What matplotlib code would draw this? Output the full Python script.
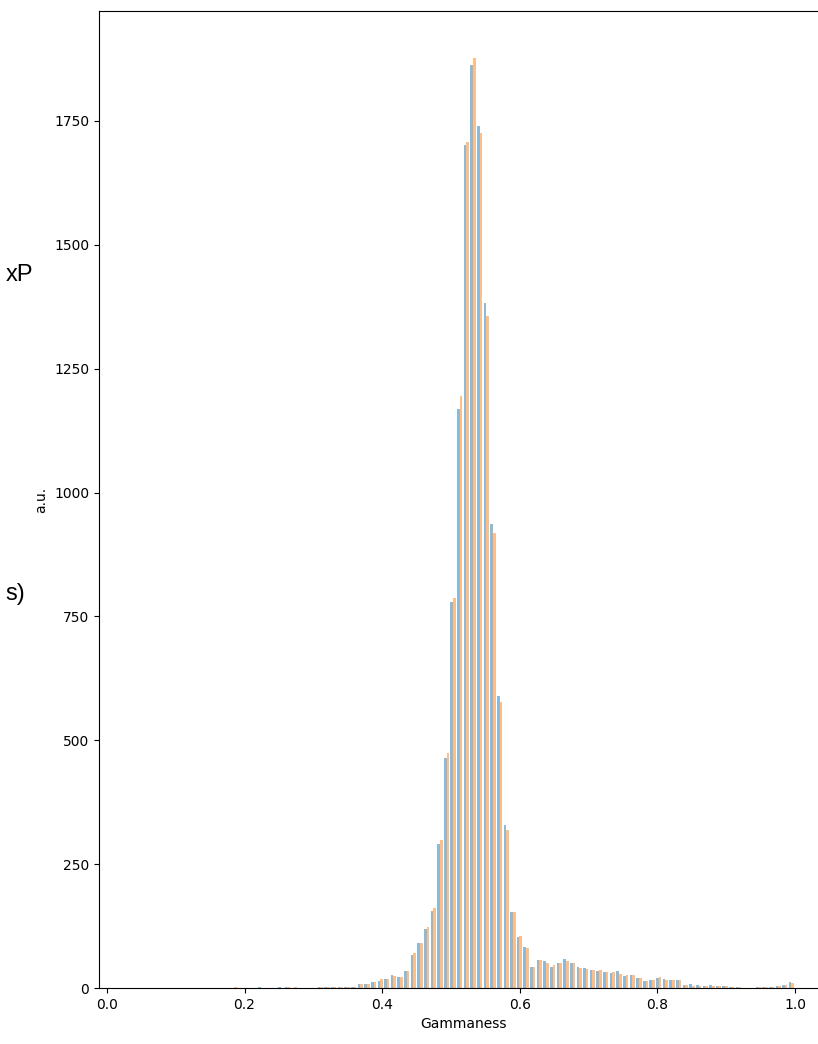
import numpy as np
import matplotlib
matplotlib.use("Agg")
import matplotlib.pyplot as plt

# histogram binning (100 bins between data min and max)
BIN_LO = 0.0356
BIN_HI = 0.9996
N_BINS = 100

# counts per bin, series 1 (blue) and series 2 (orange)
counts_a = [0]*15 + [1, 0, 0, 0, 2, 0, 0, 2, 2, 1,
                     0, 0, 0, 2, 2, 2, 3, 3, 3, 9,
                     9, 13, 15, 18, 26, 23, 34, 67, 90, 120,
                     155, 291, 465, 780, 1168, 1702, 1862, 1740, 1382, 937,
                     590, 329, 154, 102, 83, 43, 56, 54, 43, 51,
                     58, 51, 42, 40, 36, 34, 32, 30, 34, 24,
                     26, 20, 15, 16, 20, 18, 16, 16, 7, 9,
                     7, 4, 7, 4, 4, 3, 3, 0, 0, 3,
                     3, 3, 4, 7, 13]
counts_b = [0]*15 + [3, 0, 0, 0, 1, 0, 0, 0, 2, 2,
                     0, 1, 0, 2, 2, 2, 2, 3, 3, 9,
                     8, 13, 18, 18, 25, 23, 34, 70, 90, 124,
                     161, 299, 474, 788, 1194, 1707, 1878, 1726, 1357, 918,
                     577, 319, 154, 105, 80, 43, 56, 50, 46, 51,
                     55, 50, 40, 39, 36, 37, 32, 32, 28, 26,
                     26, 20, 14, 16, 23, 17, 16, 16, 7, 5,
                     5, 4, 4, 4, 4, 3, 3, 0, 0, 3,
                     3, 3, 4, 7, 11]

x_label = "Gammaness"
y_label = "a.u."
cut_text_1 = "xP"
cut_text_2 = "s)"

edges = np.linspace(BIN_LO, BIN_HI, N_BINS + 1)
centers = 0.5 * (edges[:-1] + edges[1:])

W, H = 818, 1044
fig = plt.figure(figsize=(W / 100, H / 100), dpi=100)
ax = fig.add_axes([99 / W, 1 - 988 / H, (827.2 - 99) / W, (988 - 11) / H])

ax.hist([centers, centers], bins=edges,
        weights=[np.array(counts_a, float), np.array(counts_b, float)],
        alpha=0.5, color=["C0", "C1"])
ax.set_xlabel(x_label)
ax.set_ylabel(y_label)

fig.text(33 / W, 1 - 281 / H, cut_text_1, ha="right", va="baseline",
         fontsize=17, family="Liberation Sans")
fig.text(25 / W, 1 - 600 / H, cut_text_2, ha="right", va="baseline",
         fontsize=17, family="Liberation Sans")

fig.savefig("out.png", dpi=100)
